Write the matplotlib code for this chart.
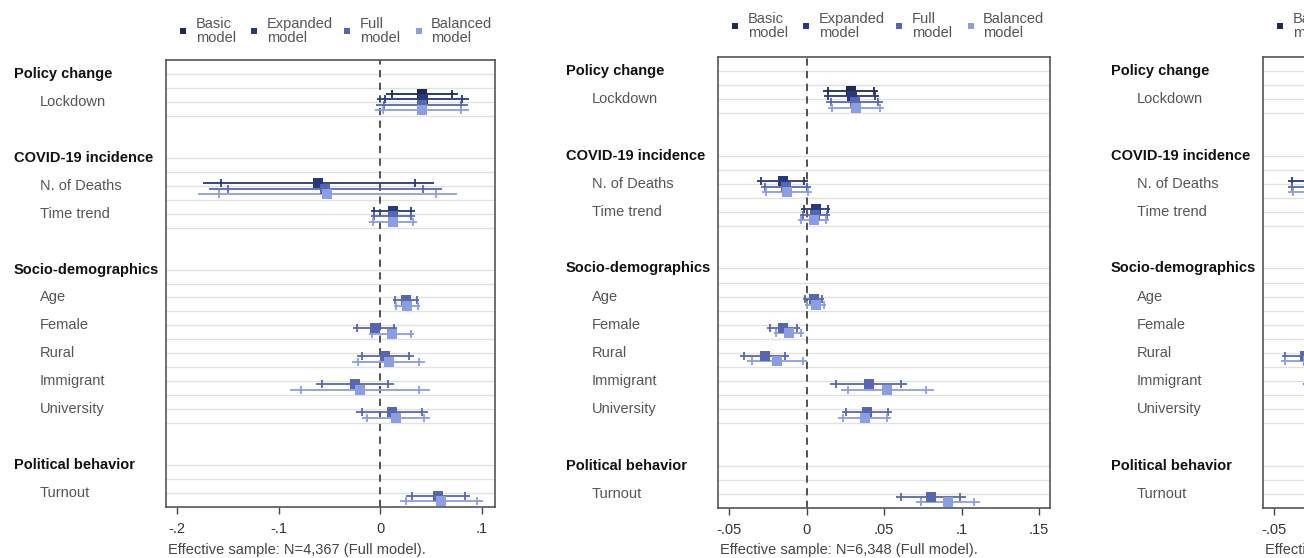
import matplotlib.pyplot as plt
import numpy as np

plt.rcParams['font.family'] = ['Liberation Sans', 'DejaVu Sans']

nan = np.nan

# Rows of the coefficient plot
groups = ['Policy change', 'COVID-19 incidence', 'Socio-demographics', 'Political behavior']
group_vars = [['Lockdown'],
              ['N. of Deaths', 'Time trend'],
              ['Age', 'Female', 'Rural', 'Immigrant', 'University'],
              ['Turnout']]

models = ['Basic\nmodel', 'Expanded\nmodel', 'Full\nmodel', 'Balanced\nmodel']
model_colors = ['#1f2a52', '#27387c', '#5667b2', '#8c9de0']

# coefficients (order: Lockdown, Deaths, Time trend, Age, Female, Rural, Immigrant, University, Turnout)
p1_coef = [[0.041, nan, nan, nan, nan, nan, nan, nan, nan],
           [0.042, -0.061, 0.012, nan, nan, nan, nan, nan, nan],
           [0.041, -0.054, 0.012, 0.025, -0.005, 0.005, -0.025, 0.0115, 0.057],
           [0.041, -0.052, 0.012, 0.026, 0.011, 0.008, -0.020, 0.015, 0.060]]
p1_se = [[0.018, nan, nan, nan, nan, nan, nan, nan, nan],
         [0.023, 0.058, 0.011, nan, nan, nan, nan, nan, nan],
         [0.023, 0.0585, 0.011, 0.0064, 0.011, 0.0143, 0.0196, 0.018, 0.016],
         [0.0235, 0.065, 0.012, 0.0064, 0.0115, 0.0184, 0.035, 0.017, 0.021]]

p2_coef = [[0.0284, nan, nan, nan, nan, nan, nan, nan, nan],
           [0.029, -0.0155, 0.006, nan, nan, nan, nan, nan, nan],
           [0.031, -0.0135, 0.0055, 0.0045, -0.015, -0.027, 0.040, 0.039, 0.080],
           [0.032, -0.0125, 0.0045, 0.0058, -0.0115, -0.019, 0.052, 0.0375, 0.091]]
p2_se = [[0.009, nan, nan, nan, nan, nan, nan, nan, nan],
         [0.0092, 0.0083, 0.0048, nan, nan, nan, nan, nan, nan],
         [0.0093, 0.0082, 0.0048, 0.0035, 0.0054, 0.008, 0.0128, 0.0083, 0.0115],
         [0.0093, 0.0082, 0.005, 0.0035, 0.005, 0.010, 0.0153, 0.0087, 0.0105]]

p3_coef = [[0.030, nan, nan, nan, nan, nan, nan, nan, nan],
           [0.031, -0.026, 0.008, nan, nan, nan, nan, nan, nan],
           [0.032, -0.025, 0.007, 0.010, 0.000, -0.030, -0.010, 0.030, 0.080],
           [0.033, -0.024, 0.006, 0.011, 0.002, -0.028, 0.000, 0.031, 0.085]]
p3_se = [[0.009, nan, nan, nan, nan, nan, nan, nan, nan],
         [0.009, 0.0077, 0.005, nan, nan, nan, nan, nan, nan],
         [0.009, 0.008, 0.005, 0.004, 0.006, 0.0077, 0.011, 0.009, 0.012],
         [0.009, 0.0085, 0.005, 0.004, 0.006, 0.009, 0.012, 0.009, 0.012]]

p1_ticks = [-0.2, -0.1, 0, 0.1]
p1_ticklabels = ['-.2', '-.1', '0', '.1']
p23_ticks = [-0.05, 0, 0.05, 0.1, 0.15]
p23_ticklabels = ['-.05', '0', '.05', '.1', '.15']

notes = ['Effective sample: N=4,367 (Full model).',
         'Effective sample: N=6,348 (Full model).',
         'Effective sample: N=5,112 (Full model).']

W, H = 1304, 558
fig = plt.figure(figsize=(W / 100, H / 100), dpi=100)

# pixel boxes (left, top, right, bottom)
boxes = [(166, 60, 495, 507), (718, 57, 1050, 508), (1263, 57, 1595, 508)]
xlims = [(-0.2108, 0.1127), (-0.0571, 0.157), (-0.0571, 0.157)]
panels = [(p1_coef, p1_se, p1_ticks, p1_ticklabels),
          (p2_coef, p2_se, p23_ticks, p23_ticklabels),
          (p3_coef, p3_se, p23_ticks, p23_ticklabels)]

offsets = [-0.3, -0.1, 0.1, 0.3]
fs = 10.5

# row positions
header_pos = []
var_pos = []
pos = 0
for g, vs in zip(groups, group_vars):
    header_pos.append(pos)
    for k in range(len(vs)):
        var_pos.append(pos + 1 + k)
    pos += len(vs) + 2
var_pos = np.array(var_pos, dtype=float)

for p, ((l, t, r, b), xl, (coef, se, ticks, tlabels)) in enumerate(zip(boxes, xlims, panels)):
    ax = fig.add_axes([l / W, 1 - b / H, (r - l) / W, (b - t) / H])
    ax.set_xlim(*xl)
    ax.set_ylim(15.5, -0.5)

    # grid lines at half rows inside each group
    for hp, vs in zip(header_pos, group_vars):
        for yy in np.arange(hp, hp + len(vs) + 1, 0.5):
            ax.axhline(yy, color='#e1e1e1', lw=1.0, zorder=0)
    ax.axvline(0, color='#444444', lw=1.3, dashes=(4, 3), zorder=1)

    for m in range(4):
        c = np.array(coef[m])
        s = np.array(se[m])
        ok = ~np.isnan(c)
        yy = var_pos[ok] + offsets[m]
        cc, ss = c[ok], s[ok]
        ax.hlines(yy, cc - 1.96 * ss, cc + 1.96 * ss, color=model_colors[m], lw=1.3, zorder=2)
        ax.plot(np.r_[cc - 1.645 * ss, cc + 1.645 * ss], np.r_[yy, yy], '|',
                color=model_colors[m], ms=6, mew=1.3, zorder=2)
        ax.plot(cc, yy, 's', color=model_colors[m], ms=6.5, mew=0, zorder=3)

    ax.set_yticks([])
    ax.set_xticks(ticks)
    ax.set_xticklabels(tlabels)
    ax.tick_params(axis='x', direction='out', length=5, width=1, color='#444444',
                   labelsize=fs, labelcolor='#333333', pad=6)
    for sp in ax.spines.values():
        sp.set_color('#555555')
        sp.set_linewidth(1.2)

    # row labels
    for g, hp in zip(groups, header_pos):
        ax.annotate(g, xy=(0, hp), xycoords=ax.get_yaxis_transform(), xytext=(-152, 0),
                    textcoords='offset pixels', ha='left', va='center', fontsize=fs,
                    fontweight='bold', color='#111111', annotation_clip=False)
    names = [v for vs in group_vars for v in vs]
    for v, vp in zip(names, var_pos):
        ax.annotate(v, xy=(0, vp), xycoords=ax.get_yaxis_transform(), xytext=(-126, 0),
                    textcoords='offset pixels', ha='left', va='center', fontsize=fs,
                    color='#555555', annotation_clip=False)

    # note under axis
    fig.text((l + 2) / W, 1 - 550 / H, notes[p], ha='left', va='center', fontsize=fs,
             color='#444444')

    # legend
    ly = 31 if p == 0 else 26
    for m, (mx, tx) in enumerate([(17, 30), (88, 101), (181, 194), (253, 265)]):
        fig.add_artist(plt.Line2D([(l + mx) / W], [1 - ly / H], marker='s', ms=5,
                                  color=model_colors[m], mew=0, transform=fig.transFigure))
        fig.text((l + tx) / W, 1 - ly / H, models[m], ha='left', va='center',
                 fontsize=fs, color='#555555', linespacing=1.05)

fig.savefig('out.png', dpi=100)
